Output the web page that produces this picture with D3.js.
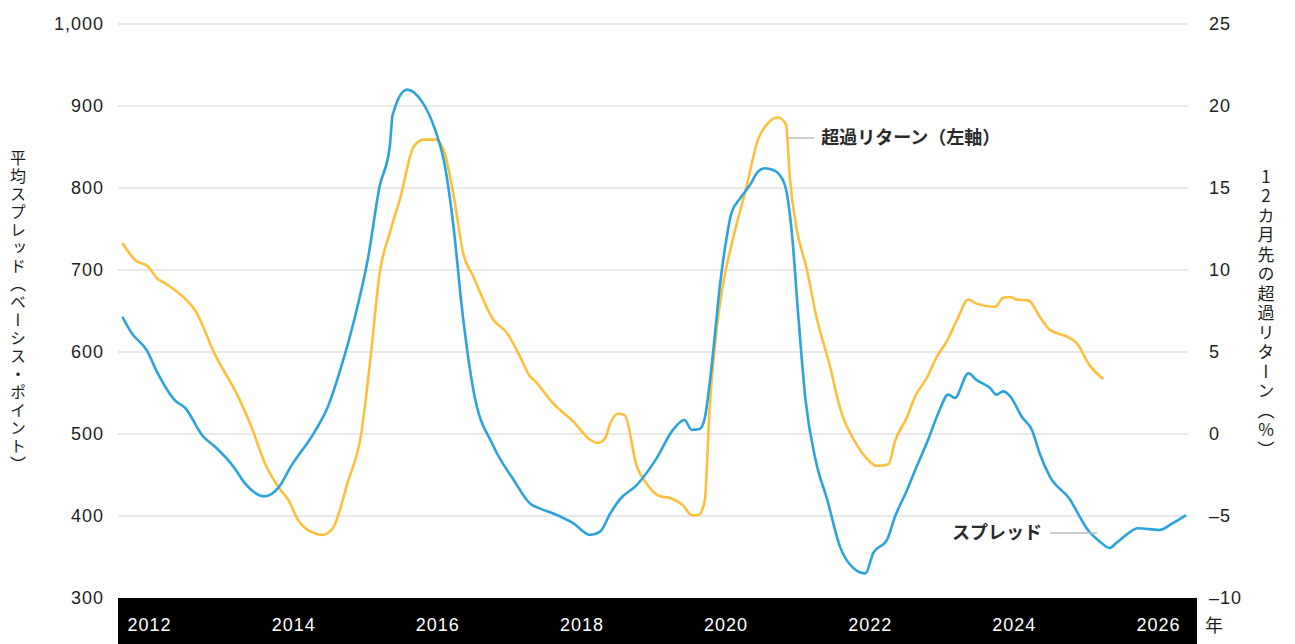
<!DOCTYPE html>
<html><head><meta charset="utf-8">
<script src="https://cdn.jsdelivr.net/npm/d3@7"></script>
<style>
html,body{margin:0;padding:0;background:#fff;}
svg{display:block;}
</style></head>
<body>
<svg id="chart" width="1295" height="644"></svg>
<script>
// ---- data ----
const yearTicks = [2012, 2014, 2016, 2018, 2020, 2022, 2024, 2026];
const leftTicks = [300, 400, 500, 600, 700, 800, 900, 1000];
const rightTicks = [-10, -5, 0, 5, 10, 15, 20, 25];

const spreadDates = [2011.63,2011.76,2011.97,2012.11,2012.36,2012.50,2012.75,2012.91,2013.19,2013.33,2013.61,2013.79,2013.98,2014.30,2014.48,2014.65,2014.85,2015.04,2015.20,2015.34,2015.38,2015.58,2015.79,2015.97,2016.09,2016.23,2016.34,2016.50,2016.78,2017.06,2017.29,2017.43,2017.61,2017.89,2018.12,2018.26,2018.40,2018.53,2018.77,2019.04,2019.27,2019.43,2019.53,2019.64,2019.71,2019.83,2019.92,2020.01,2020.08,2020.20,2020.34,2020.45,2020.54,2020.66,2020.75,2020.84,2020.92,2021.01,2021.11,2021.25,2021.41,2021.59,2021.78,2021.94,2022.05,2022.24,2022.35,2022.52,2022.65,2022.81,2022.95,2023.09,2023.18,2023.37,2023.48,2023.67,2023.76,2023.85,2023.95,2024.11,2024.25,2024.36,2024.50,2024.78,2024.89,2025.01,2025.19,2025.33,2025.42,2025.56,2025.72,2026.02,2026.20,2026.39];
const spreadValues = [643,623,602,576,541,532,497,485,458,440,424,434,462,503,533,577,640,715,802,850,889,920,905,871,834,749,655,554,485,444,415,409,403,391,377,381,403,420,438,470,505,517,505,506,519,602,680,737,769,787,804,820,824,822,816,798,745,643,541,468,420,362,336,330,355,371,399,432,460,493,525,548,544,574,566,556,548,552,546,521,505,476,448,420,403,385,369,361,367,377,385,383,391,401];

const returnDates = [2011.63,2011.81,2011.99,2012.11,2012.22,2012.50,2012.64,2012.91,2013.24,2013.42,2013.61,2013.79,2013.93,2014.07,2014.30,2014.41,2014.55,2014.76,2014.94,2015.08,2015.20,2015.34,2015.49,2015.67,2015.81,2015.97,2016.09,2016.23,2016.36,2016.50,2016.78,2016.97,2017.15,2017.29,2017.34,2017.61,2017.89,2018.12,2018.23,2018.33,2018.40,2018.51,2018.60,2018.77,2018.90,2019.09,2019.23,2019.41,2019.53,2019.62,2019.71,2019.78,2019.87,2019.96,2020.10,2020.28,2020.45,2020.61,2020.73,2020.84,2020.89,2020.98,2021.13,2021.25,2021.45,2021.59,2021.82,2021.96,2022.10,2022.26,2022.35,2022.52,2022.63,2022.79,2022.93,2023.07,2023.21,2023.37,2023.48,2023.74,2023.85,2023.95,2024.04,2024.20,2024.36,2024.50,2024.73,2024.87,2025.05,2025.24];
const returnValues = [11.65,10.6,10.2,9.5,9.2,8.25,7.55,4.9,2.25,0.45,-1.8,-3.2,-4.0,-5.25,-6.05,-6.15,-5.75,-2.9,-0.1,4.9,9.8,12.25,14.45,17.5,17.95,17.95,17.3,14.45,11.0,9.6,6.95,6.15,4.7,3.5,3.3,1.85,0.75,-0.35,-0.55,-0.25,0.65,1.25,1.15,-2.0,-3.0,-3.8,-3.9,-4.35,-4.95,-4.95,-4.1,1.65,6.15,9.0,11.85,14.9,17.95,19.05,19.3,18.85,15.7,12.65,10.0,7.35,4.1,1.55,-0.65,-1.5,-1.95,-1.85,-0.45,1.05,2.3,3.4,4.7,5.65,6.95,8.2,7.95,7.75,8.3,8.35,8.2,8.15,7.15,6.35,5.95,5.55,4.2,3.35];

const leftTitle = "平均スプレッド（ベーシス・ポイント）";
const rightTitle = "12カ月先の超過リターン（%）";
const returnLabel = "超過リターン（左軸）";
const spreadLabel = "スプレッド";
const yearUnit = "年";

// ---- drawing ----
const svg = d3.select("#chart");
const BLUE = "#2ba3dc", YELLOW = "#fdbf3c";
const plotL = 118, plotR = 1188, bandR = 1197;
const x = d3.scaleLinear().domain([2012, 2026]).range([149, 1158]);
const yL = d3.scaleLinear().domain([300, 1000]).range([598, 24]);
const yR = d3.scaleLinear().domain([-10, 25]).range([598, 24]);
const numFont = "'Liberation Sans', Arial, sans-serif";
const jpFont = "'Noto Sans CJK JP', sans-serif";

// gridlines
svg.append("g").selectAll("line").data(leftTicks.filter(d => d > 300)).join("line")
  .attr("x1", plotL).attr("x2", plotR)
  .attr("y1", d => yL(d)).attr("y2", d => yL(d))
  .attr("stroke", "#e2e2e2").attr("stroke-width", 1.6);

// bottom band
svg.append("rect").attr("x", plotL).attr("y", yL(300))
  .attr("width", bandR - plotL).attr("height", 644 - yL(300)).attr("fill", "#000");

// x axis
const xAxis = d3.axisBottom(x).tickValues(yearTicks).tickFormat(d3.format("d")).tickSize(0).tickPadding(0);
const gx = svg.append("g").attr("transform", `translate(0,${yL(300)})`).call(xAxis);
gx.select(".domain").remove();
gx.selectAll("text").attr("fill", "#fff").attr("font-family", numFont)
  .attr("font-size", 18).attr("letter-spacing", 1).attr("dy", null).attr("y", 33);

// left axis
const yAxisL = d3.axisLeft(yL).tickValues(leftTicks).tickFormat(d3.format(",")).tickSize(0).tickPadding(0);
const gl = svg.append("g").attr("transform", "translate(104,0)").call(yAxisL);
gl.select(".domain").remove();
gl.selectAll("text").attr("fill", "#1e1e1e").attr("font-family", numFont)
  .attr("font-size", 18).attr("letter-spacing", 1);

// right axis
const fmtR = d => (d < 0 ? "\u2013" + Math.abs(d) : String(d));
const yAxisR = d3.axisRight(yR).tickValues(rightTicks).tickFormat(fmtR).tickSize(0).tickPadding(0);
const gr = svg.append("g").attr("transform", "translate(1209,0)").call(yAxisR);
gr.select(".domain").remove();
gr.selectAll("text").attr("fill", "#1e1e1e").attr("font-family", numFont)
  .attr("font-size", 18).attr("letter-spacing", 1);

svg.append("text").attr("x", 1205).attr("y", 632).text(yearUnit)
  .attr("font-family", jpFont).attr("font-size", 18).attr("fill", "#1e1e1e");

// axis titles (vertical)
function vtitle(txt, cx, cy, fs, ls) {
  svg.append("text").attr("x", cx).attr("y", cy).text(txt)
    .attr("text-anchor", "middle")
    .attr("font-family", jpFont).attr("font-size", fs).attr("fill", "#1e1e1e")
    .attr("letter-spacing", ls)
    .style("writing-mode", "vertical-rl").style("text-orientation", "upright");
}
vtitle(leftTitle, 18, 312, 16, 2);
vtitle(rightTitle, 1266, 314, 17, 2.5);

// lines
const spread = spreadDates.map((d, i) => ({ t: d, v: spreadValues[i] }));
const ret = returnDates.map((d, i) => ({ t: d, v: returnValues[i] }));
const lineL = d3.line().x(d => x(d.t)).y(d => yL(d.v)).curve(d3.curveMonotoneX);
const lineR = d3.line().x(d => x(d.t)).y(d => yR(d.v)).curve(d3.curveMonotoneX);
svg.append("path").datum(ret).attr("d", lineR).attr("fill", "none")
  .attr("stroke", YELLOW).attr("stroke-width", 2.6).attr("stroke-linejoin", "round");
svg.append("path").datum(spread).attr("d", lineL).attr("fill", "none")
  .attr("stroke", BLUE).attr("stroke-width", 2.6).attr("stroke-linejoin", "round");

// annotations
const peakRet = ret.reduce((a, b) => (b.t > 2020 && b.t < 2021.5 && b.v > a.v ? b : a), { v: -99 });
const ay = 138;
svg.append("line").attr("x1", x(peakRet.t) + 10).attr("x2", x(peakRet.t) + 36)
  .attr("y1", ay).attr("y2", ay).attr("stroke", "#bbb").attr("stroke-width", 1.5);
svg.append("text").attr("x", x(peakRet.t) + 43).attr("y", ay).attr("dy", "0.35em")
  .text(returnLabel).attr("font-family", jpFont).attr("font-size", 18)
  .attr("font-weight", 600).attr("fill", "#2a2a2a");

const sy = 533;
svg.append("line").attr("x1", 1050).attr("x2", 1097).attr("y1", sy).attr("y2", sy)
  .attr("stroke", "#bbb").attr("stroke-width", 1.5);
svg.append("text").attr("x", 1042).attr("y", sy).attr("dy", "0.35em").attr("text-anchor", "end")
  .text(spreadLabel).attr("font-family", jpFont).attr("font-size", 18)
  .attr("font-weight", 600).attr("fill", "#2a2a2a");
</script>
</body></html>
